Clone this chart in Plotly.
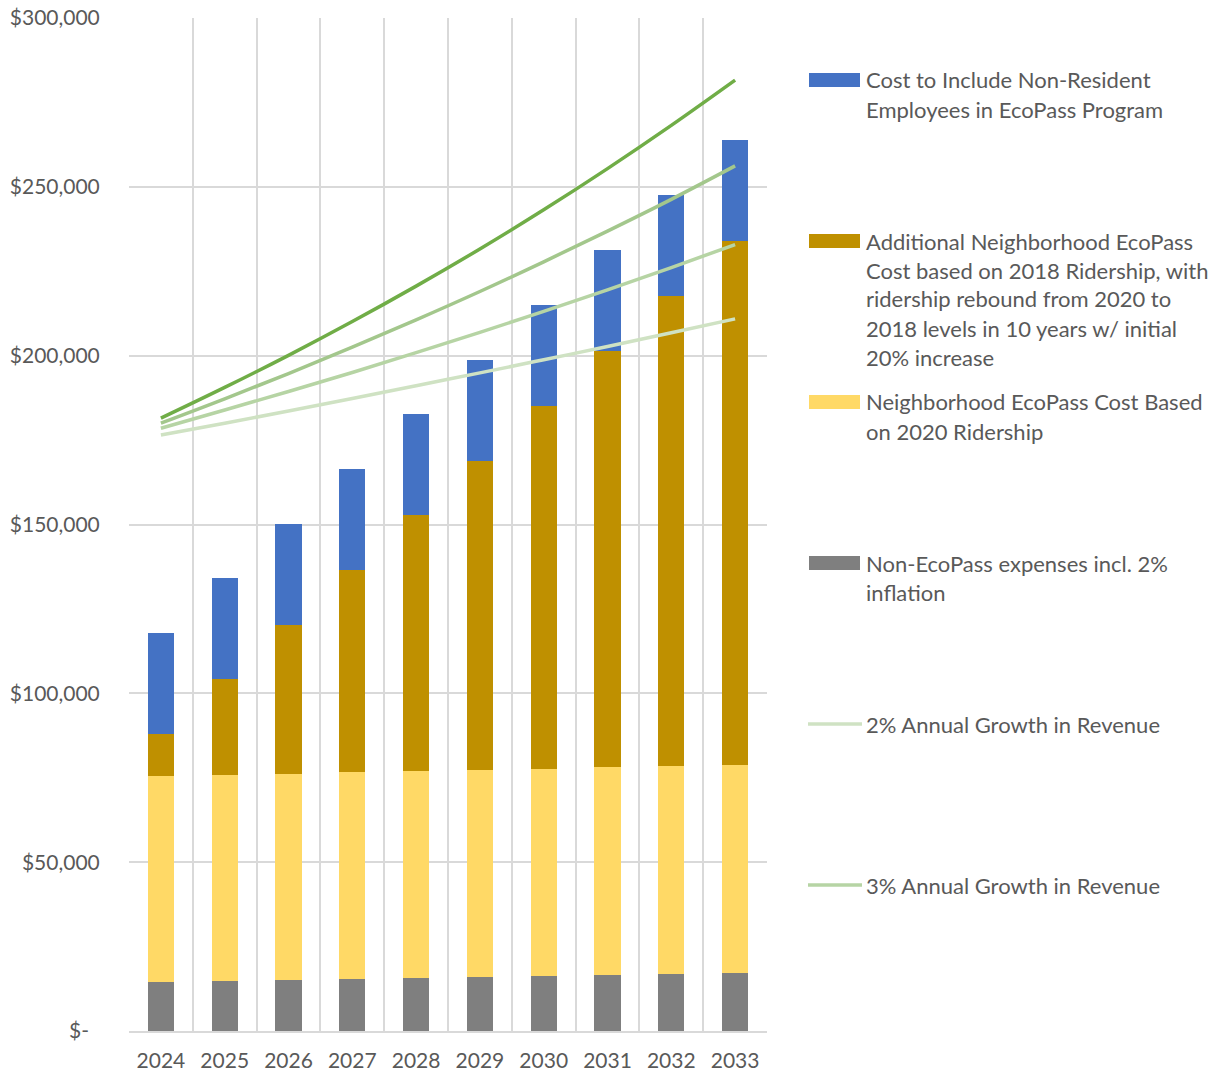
import plotly.graph_objects as go

years = [2024, 2025, 2026, 2027, 2028, 2029, 2030, 2031, 2032, 2033]

non_ecopass = [14500, 14800, 15100, 15400, 15700, 16000, 16300, 16700, 17000, 17300]
eco_2020 = [61000, 61100, 61100, 61200, 61200, 61300, 61300, 61400, 61400, 61500]
eco_additional = [12500, 28300, 44000, 59900, 75900, 91500, 107500, 123300, 139300, 155100]
non_resident = [30000, 30000, 30000, 30000, 30000, 30000, 30000, 30000, 30000, 30000]

rev_2 = [176500, 180000, 183600, 187300, 191100, 194900, 198800, 202700, 206800, 210900]
rev_3 = [178500, 183900, 189400, 195000, 200900, 206900, 213100, 219500, 226100, 232900]
rev_4 = [180000, 187200, 194700, 202500, 210600, 219000, 227800, 236900, 246300, 256200]
rev_5 = [181500, 190600, 200100, 210100, 220600, 231600, 243200, 255400, 268200, 281600]

y_tickvals = [0, 50000, 100000, 150000, 200000, 250000, 300000]
y_ticktext = ["$-\u00a0\u00a0", "$50,000", "$100,000", "$150,000", "$200,000", "$250,000", "$300,000"]

FONT = "Lato, 'Open Sans', sans-serif"
TXT = "#595959"
GRID = "#d9d9d9"

C_GRAY = "#7f7f7f"
C_YELLOW = "#ffd966"
C_GOLD = "#bf9000"
C_BLUE = "#4472c4"
C_L2 = "#cfe2c3"
C_L3 = "#b6d4a4"
C_L4 = "#a3c78c"
C_L5 = "#70ad47"

fig = go.Figure()
bw = 0.41
for name, vals, col in [
    ("Non-EcoPass expenses incl. 2% inflation", non_ecopass, C_GRAY),
    ("Neighborhood EcoPass Cost Based on 2020 Ridership", eco_2020, C_YELLOW),
    ("Additional Neighborhood EcoPass Cost", eco_additional, C_GOLD),
    ("Cost to Include Non-Resident Employees in EcoPass Program", non_resident, C_BLUE),
]:
    fig.add_trace(go.Bar(x=years, y=vals, name=name, width=bw,
                         marker=dict(color=col, line=dict(width=0)), showlegend=False))

for name, vals, col in [
    ("2% Annual Growth in Revenue", rev_2, C_L2),
    ("3% Annual Growth in Revenue", rev_3, C_L3),
    ("4% Annual Growth in Revenue", rev_4, C_L4),
    ("5% Annual Growth in Revenue", rev_5, C_L5),
]:
    fig.add_trace(go.Scatter(x=years, y=vals, name=name, mode="lines",
                             line=dict(color=col, width=3.5, shape="spline"), showlegend=False))

# plot area in pixels
L, R, T, B = 129, 767, 18, 1031
W, H = 1219, 1076

def px(x):
    return (x - L) / (R - L)

def py(y):
    return (B - y) / (B - T)

legend_items = [
    ("bar", C_BLUE, 80, ["Cost to Include Non-Resident", "Employees in EcoPass Program"]),
    ("bar", C_GOLD, 241, ["Additional Neighborhood EcoPass", "Cost based on 2018 Ridership, with",
                          "ridership rebound from 2020 to", "2018 levels in 10 years w/ initial",
                          "20% increase"]),
    ("bar", C_YELLOW, 402, ["Neighborhood EcoPass Cost Based", "on 2020 Ridership"]),
    ("bar", C_GRAY, 563, ["Non-EcoPass expenses incl. 2%", "inflation"]),
    ("line", C_L2, 724, ["2% Annual Growth in Revenue"]),
    ("line", C_L3, 885, ["3% Annual Growth in Revenue"]),
]
shapes = []
annotations = []
for kind, col, yc, lines in legend_items:
    if kind == "bar":
        shapes.append(dict(type="rect", xref="paper", yref="paper",
                           x0=px(809), x1=px(860), y0=py(yc + 7), y1=py(yc - 7),
                           fillcolor=col, line=dict(width=0)))
    else:
        shapes.append(dict(type="line", xref="paper", yref="paper",
                           x0=px(808), x1=px(862), y0=py(yc), y1=py(yc),
                           line=dict(color=col, width=3.5)))
    for i, t in enumerate(lines):
        annotations.append(dict(text=t, xref="paper", yref="paper", x=px(864), y=py(yc + 29 * i),
                                xanchor="left", yanchor="middle", showarrow=False,
                                font=dict(family=FONT, size=22, color=TXT)))

fig.update_layout(
    barmode="stack",
    width=W, height=H,
    margin=dict(l=L, r=W - R, t=T, b=H - B, autoexpand=False),
    paper_bgcolor="white", plot_bgcolor="white",
    font=dict(family=FONT, size=20, color=TXT),
    shapes=shapes,
    annotations=annotations,
    xaxis=dict(range=[2023.5, 2033.5], tickvals=years, ticktext=[str(y) for y in years],
               showgrid=False, zeroline=False, showline=True, linecolor=GRID, linewidth=1.5,
               ticks="outside", ticklen=10, tickcolor="rgba(0,0,0,0)", automargin=False,
               minor=dict(tickvals=[y - 0.5 for y in years] + [2033.5], showgrid=True,
                          gridcolor=GRID, gridwidth=1.5),
               tickfont=dict(family=FONT, size=21, color=TXT), fixedrange=True),
    yaxis=dict(range=[0, 300000], tickvals=y_tickvals, ticktext=y_ticktext,
               showgrid=True, gridcolor=GRID, gridwidth=1.5, zeroline=False, automargin=False,
               showline=False, ticks="outside", ticklen=24, tickcolor="rgba(0,0,0,0)",
               tickfont=dict(family=FONT, size=21, color=TXT), fixedrange=True),
)

fig.write_html("out.html")
